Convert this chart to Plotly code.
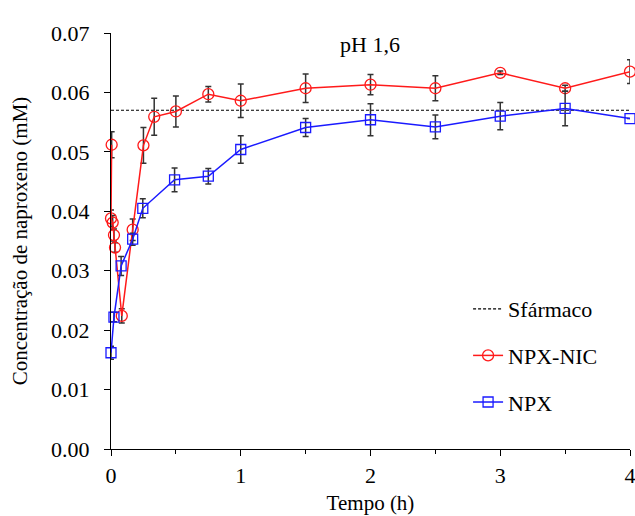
import plotly.graph_objects as go

# Dissolution profile at pH 1,6 – naproxen concentration vs time
sfarmaco = 0.0570  # solubility of the drug (mM)

t_cocrystal = [0.005, 0.0, 0.013, 0.023, 0.031, 0.083, 0.167, 0.25, 0.333, 0.5,
               0.75, 1.0, 1.5, 2.0, 2.5, 3.0, 3.5, 4.0]
c_cocrystal = [0.0512, 0.0388, 0.0381, 0.0360, 0.0339, 0.0224, 0.0369, 0.0511, 0.0559, 0.0568,
               0.0597, 0.0586, 0.0607, 0.0613, 0.0607, 0.0633, 0.0607, 0.0635]
sd_cocrystal = [0.0022, 0.0014, 0.0012, 0.0010, 0.0008, 0.0012, 0.0018, 0.0030, 0.0031, 0.0026,
                0.0013, 0.0028, 0.0024, 0.0017, 0.0021, 0.0003, 0.0005, 0.0020]

t_npx = [0.0, 0.023, 0.078, 0.167, 0.245, 0.49, 0.75, 1.0, 1.5, 2.0, 2.5, 3.0, 3.5, 4.0]
c_npx = [0.0162, 0.0222, 0.0308, 0.0353, 0.0405, 0.0453, 0.0459, 0.0504, 0.0541, 0.0554,
         0.0542, 0.0560, 0.0573, 0.0556]
sd_npx = [0.0011, 0.0008, 0.0016, 0.0010, 0.0016, 0.0020, 0.0013, 0.0023, 0.0015, 0.0027,
          0.0020, 0.0023, 0.0029, 0.0]

x_ticks = [0, 1, 2, 3, 4]
y_ticks = [0.00, 0.01, 0.02, 0.03, 0.04, 0.05, 0.06, 0.07]

FONT = "Liberation Serif"
ERR = dict(type="data", visible=True, color="#333333", thickness=1.5, width=3)

fig = go.Figure()

fig.add_trace(go.Scatter(
    x=[x_ticks[0], x_ticks[-1]], y=[sfarmaco, sfarmaco], mode="lines",
    name="Sfármaco", legendgroup="a",
    line=dict(color="black", width=1.2, dash="3px,2px"),
))

fig.add_trace(go.Scatter(
    x=t_cocrystal, y=c_cocrystal, mode="lines+markers", name="NPX-NIC", legendgroup="b",
    line=dict(color="#ff1a1a", width=1.5),
    marker=dict(symbol="circle-open", size=11, color="#ff1a1a", line=dict(width=1.3)),
    error_y=dict(array=sd_cocrystal, **ERR),
    cliponaxis=False,
))

fig.add_trace(go.Scatter(
    x=t_npx, y=c_npx, mode="lines+markers", name="NPX", legendgroup="c",
    line=dict(color="#1a1aff", width=1.5),
    marker=dict(symbol="square-open", size=10, color="#1a1aff", line=dict(width=1.3)),
    error_y=dict(array=sd_npx, **ERR),
    cliponaxis=False,
))

fig.update_layout(
    width=635, height=516,
    margin=dict(l=111, r=5, t=33, b=67),
    paper_bgcolor="white", plot_bgcolor="white",
    font=dict(family=FONT, size=22, color="black"),
    title=dict(text="pH 1,6", x=(370 / 635), xanchor="center", y=1 - 44 / 516,
               yanchor="middle", font=dict(family=FONT, size=22, color="black")),
    showlegend=True,
    legend=dict(x=0.688, y=0.387, xanchor="left", yanchor="top",
                bgcolor="rgba(0,0,0,0)", font=dict(family=FONT, size=22),
                tracegroupgap=15, traceorder="grouped"),
    xaxis=dict(
        range=[0, 4], tickvals=x_ticks, showgrid=False, zeroline=False,
        showline=True, linecolor="black", linewidth=1.2,
        ticks="outside", ticklen=6, tickcolor="black", tickwidth=1.2,
        minor=dict(dtick=0.5, ticks="outside", ticklen=4, tickcolor="black", tickwidth=1),
        tickfont=dict(family=FONT, size=22), ticklabeloverflow="allow",
        automargin=False,
        title=dict(text="Tempo (h)", font=dict(family=FONT, size=21), standoff=8),
    ),
    yaxis=dict(
        range=[0, 0.07], tickvals=y_ticks, tickformat=".2f", showgrid=False, zeroline=False,
        showline=True, linecolor="black", linewidth=1.2,
        ticks="outside", ticklen=6, tickcolor="black", tickwidth=1.2,
        tickfont=dict(family=FONT, size=22), ticklabeloverflow="allow",
        ticklabelstandoff=10, automargin=False,
        title=dict(text="Concentração de naproxeno (mM)", font=dict(family=FONT, size=21),
                   standoff=17),
    ),
)

fig.write_html("out.html")
